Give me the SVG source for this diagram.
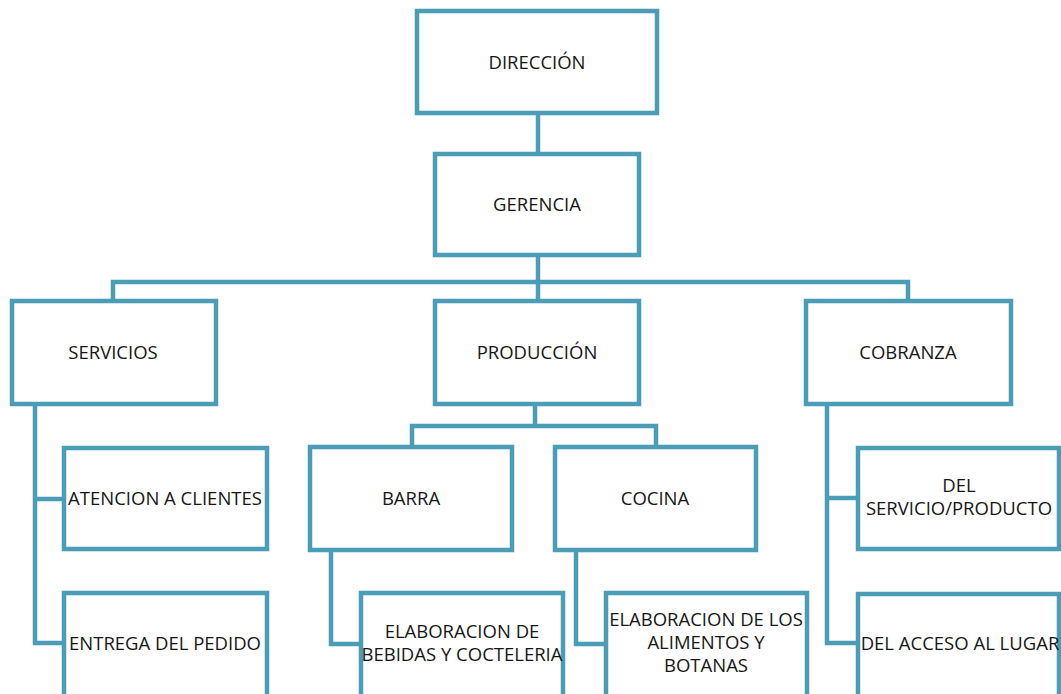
<svg xmlns="http://www.w3.org/2000/svg" width="1061" height="694" viewBox="0 0 1061 694">
<style>
.box{fill:#ffffff;stroke:#4a9db5;stroke-width:4.5;}
.ln{fill:none;stroke:#4a9db5;stroke-width:4.5;stroke-linejoin:miter;}
text{font-family:"Open Sans","Liberation Sans",sans-serif;font-size:18.5px;fill:#161616;text-anchor:middle;}
</style>
<rect width="1061" height="694" fill="#ffffff"/>
<g id="connectors">
<path class="ln" d="M538 113 V154"/>
<path class="ln" d="M538 255 V300"/>
<path class="ln" d="M113 301 V282 H908 V301"/>
<path class="ln" d="M35 404 V643 H64"/>
<path class="ln" d="M35 499 H64"/>
<path class="ln" d="M535 404 V426"/>
<path class="ln" d="M412 447 V426 H656 V447"/>
<path class="ln" d="M331 550 V644 H361"/>
<path class="ln" d="M576 550 V644 H606"/>
<path class="ln" d="M827 404 V643 H858"/>
<path class="ln" d="M827 498 H858"/>
</g>
<g id="direccion"><rect class="box" x="417" y="11" width="240" height="102"/><text x="537" y="69">DIRECCIÓN</text></g>
<g id="gerencia"><rect class="box" x="435" y="154" width="204" height="101"/><text x="537" y="211">GERENCIA</text></g>
<g id="servicios"><rect class="box" x="12" y="301" width="204" height="103"/><text x="113" y="359">SERVICIOS</text></g>
<g id="produccion"><rect class="box" x="435" y="301" width="204" height="103"/><text x="537" y="359">PRODUCCIÓN</text></g>
<g id="cobranza"><rect class="box" x="806" y="301" width="205" height="103"/><text x="908" y="359">COBRANZA</text></g>
<g id="atencion"><rect class="box" x="64" y="448" width="203" height="101"/><text x="165" y="505">ATENCION A CLIENTES</text></g>
<g id="entrega"><rect class="box" x="64" y="593" width="203" height="110"/><text x="165" y="650">ENTREGA DEL PEDIDO</text></g>
<g id="barra"><rect class="box" x="310" y="447" width="202" height="103"/><text x="411" y="505">BARRA</text></g>
<g id="cocina"><rect class="box" x="555" y="447" width="201" height="103"/><text x="655" y="505">COCINA</text></g>
<g id="elab-bebidas"><rect class="box" x="361" y="593" width="202" height="110"/><text x="462" y="638">ELABORACION DE</text><text x="462" y="661">BEBIDAS Y COCTELERIA</text></g>
<g id="elab-alimentos"><rect class="box" x="606" y="593" width="201" height="110"/><text x="706" y="626">ELABORACION DE LOS</text><text x="706" y="649">ALIMENTOS Y</text><text x="706" y="672">BOTANAS</text></g>
<g id="del-servicio"><rect class="box" x="858" y="448" width="201" height="101"/><text x="959" y="492">DEL</text><text x="959" y="515">SERVICIO/PRODUCTO</text></g>
<g id="del-acceso"><rect class="box" x="858" y="594" width="201" height="110"/><text x="960" y="650">DEL ACCESO AL LUGAR</text></g>
</svg>
